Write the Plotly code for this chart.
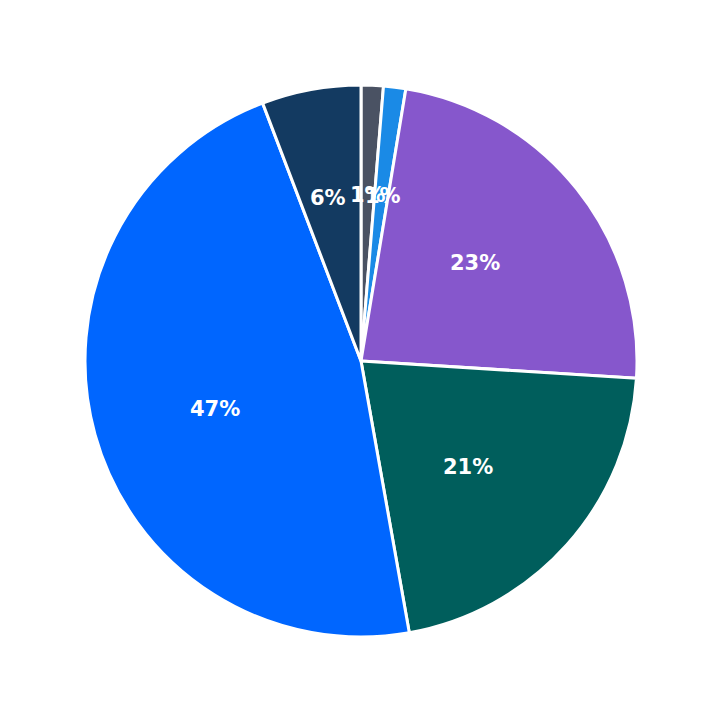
import math
import plotly.graph_objects as go

labels = ['A', 'B', 'C', 'D', 'E', 'F']
values = [1.3, 1.3, 23.4, 21.2, 47.0, 5.8]
colors = ['#4a5263', '#1a8ae6', '#8657cc', '#005e5c', '#0066ff', '#133a61']

fig = go.Figure(go.Pie(
    labels=labels, values=values, sort=False, direction='clockwise', rotation=0,
    marker=dict(colors=colors, line=dict(color='white', width=3)),
    textinfo='none', hoverinfo='label+percent',
))

# percent labels at a fixed fraction of the radius, on each slice's mid angle
total = sum(values)
start = 0.0
for v in values:
    mid = (start + v / 2) / total * 2 * math.pi
    start += v
    fig.add_annotation(x=0.5 + 0.326 * math.sin(mid), y=0.5 + 0.326 * math.cos(mid),
                       xref='paper', yref='paper', showarrow=False,
                       text='<b>%d%%</b>' % round(v / total * 100),
                       font=dict(color='white', size=21, family='DejaVu Sans'))

fig.update_layout(width=723, height=723, showlegend=False,
                  margin=dict(l=77, r=94, t=77, b=94),
                  paper_bgcolor='white')
fig.write_html('out.html')
